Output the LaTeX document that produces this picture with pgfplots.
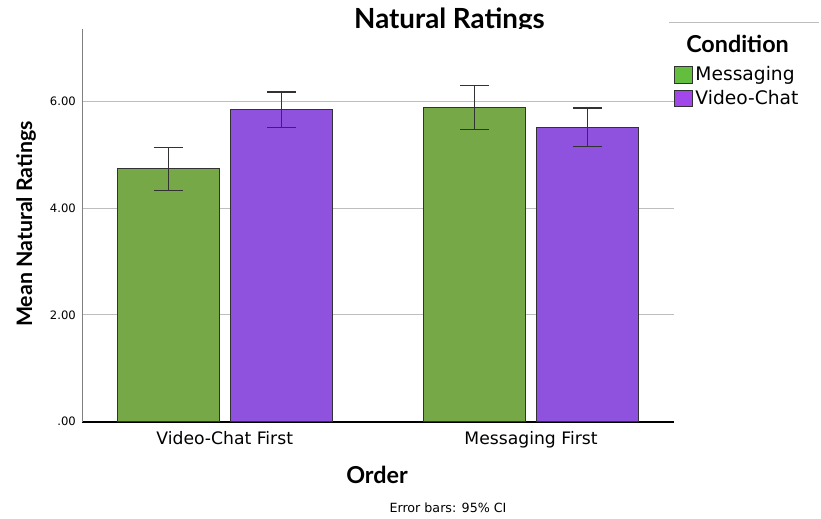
\documentclass[border=0pt]{standalone}
\usepackage{pgfplots}
\pgfplotsset{compat=1.18}
\usepackage{fontspec}
\setmainfont{DejaVu Sans}
\newfontfamily\lato{Lato}

\definecolor{barGreen}{RGB}{118,168,72}
\definecolor{barPurple}{RGB}{143,82,222}
\definecolor{keyGreen}{RGB}{98,190,60}
\definecolor{keyPurple}{RGB}{162,72,234}
\definecolor{edge}{RGB}{50,50,50}
\definecolor{gridgray}{RGB}{190,190,190}

\begin{document}
\begin{tikzpicture}[x=0.75pt,y=0.75pt]
\path[use as bounding box] (0,0) rectangle (821,518);

\begin{axis}[
  at={(61.725pt,72.225pt)}, anchor=south west,
  scale only axis, width=443.8pt, height=294.3pt,
  xmin=-0.465, xmax=1.467, ymin=0, ymax=7.355,
  axis x line*=bottom, axis y line*=left,
  x axis line style={black, line width=1.5pt, -},
  y axis line style={gray, line width=0.75pt, -},
  major tick length=0pt,
  xtick={0,1}, xticklabels={Video-Chat First, Messaging First},
  ytick={0,2,4,6}, yticklabels={.00,2.00,4.00,6.00},
  xticklabel style={font=\fontsize{12.9}{15}\selectfont, anchor=north, inner sep=0pt, yshift=-7pt},
  yticklabel style={font=\fontsize{8.7}{10}\selectfont, anchor=east, inner sep=0pt, xshift=-4.7pt},
  ymajorgrids, grid style={gridgray, line width=0.75pt},
  legend style={at={(0.9988,0.912)}, anchor=north west, draw=none, fill=none,
    inner sep=0pt, row sep=1.4pt, font=\fontsize{14}{16}\selectfont,
    cells={anchor=west}},
  legend cell align=left,
]
% Messaging: one bar per order, left of each group centre
\addplot[forget plot, ybar, bar width=0.334, bar shift=0, fill=barGreen, draw=edge, line width=0.75pt,
  error bars/.cd, y dir=both, y explicit,
  error bar style={edge, line width=0.8pt},
  error mark options={rotate=90, edge, line width=0.8pt, mark size=10.8pt}]
  coordinates {(-0.1845,4.74) +- (0,0.40) (0.8155,5.89) +- (0,0.42)};
% Video-Chat: right of each group centre
\addplot[forget plot, ybar, bar width=0.334, bar shift=0, fill=barPurple, draw=edge, line width=0.75pt,
  error bars/.cd, y dir=both, y explicit,
  error bar style={edge, line width=0.8pt},
  error mark options={rotate=90, edge, line width=0.8pt, mark size=10.8pt}]
  coordinates {(0.1845,5.85) +- (0,0.33) (1.1845,5.52) +- (0,0.36)};

\addlegendimage{legend image code/.code={\draw[edge, line width=0.6pt, fill=keyGreen] (0pt,-6.2pt) rectangle (13.8pt,6.2pt);}}
\addlegendentry{Messaging}
\addlegendimage{legend image code/.code={\draw[edge, line width=0.6pt, fill=keyPurple] (0pt,-6.2pt) rectangle (13.8pt,6.2pt);}}
\addlegendentry{Video-Chat}
\end{axis}

% title, clipped at its baseline
\begin{scope}
  \clip (300,489.4) rectangle (600,518);
  \node[anchor=base, inner sep=0pt, font=\lato\bfseries\fontsize{20.8}{24}\selectfont] at (449.5,489.7) {Natural Ratings};
\end{scope}

\node[rotate=90, inner sep=0pt, font=\lato\bfseries\fontsize{16}{19}\selectfont] at (26,294) {Mean Natural Ratings};
\node[inner sep=0pt, font=\lato\bfseries\fontsize{17.5}{20}\selectfont] at (377,43) {Order};
\node[inner sep=0pt, font=\fontsize{9.5}{11}\selectfont] at (448,10) {Error bars: 95\% CI};

% legend heading
\draw[gridgray, line width=0.75pt] (669,495.3) -- (819,495.3);
\node[anchor=base, inner sep=0pt, font=\lato\bfseries\fontsize{17.5}{20}\selectfont] at (737.5,465.7) {Condition};
\end{tikzpicture}
\end{document}
